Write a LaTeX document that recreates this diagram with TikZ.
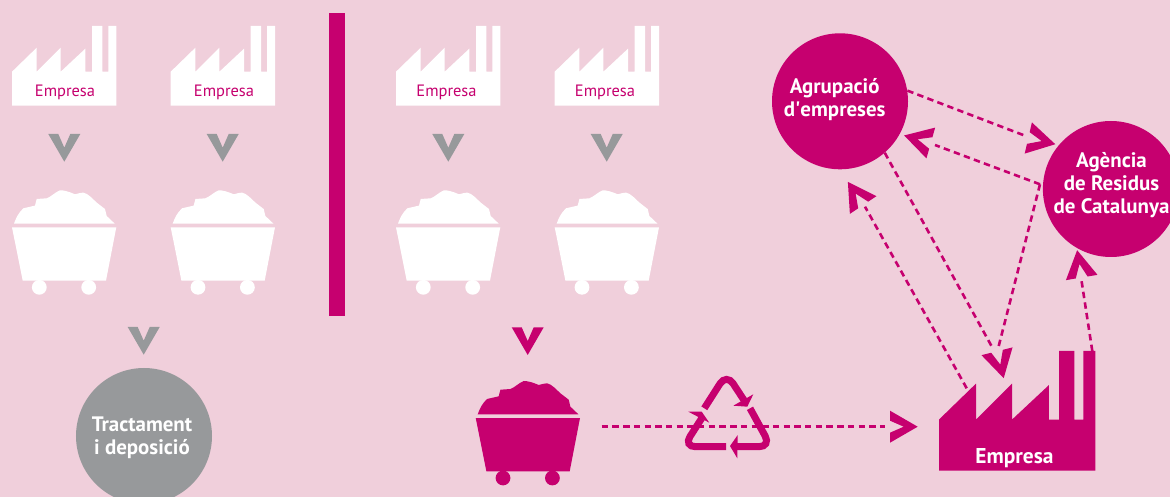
\documentclass[tikz,border=0pt]{standalone}
\usepackage{fontspec}
\usepackage{xcolor}
\usetikzlibrary{positioning}
\setmainfont{PT Sans}
\definecolor{fonscol}{HTML}{F0CFDB}
\definecolor{magcol}{HTML}{C6006F}
\definecolor{griscol}{HTML}{97999B}
\tikzset{
  dashline/.style={draw=magcol, line width=2.6bp, dash pattern=on 6.4bp off 4.3bp},
  rodona/.style={circle, fill=#1, minimum size=136bp, inner sep=0pt},
  rotol/.style={text=white, align=center, inner sep=0pt, font=\bfseries\fontsize{21}{23}\selectfont},
  etiqueta/.style={text=magcol, inner sep=0pt, font=\fontsize{16.5}{18}\selectfont},
  pics/chevron/.style={code={
    \fill[#1] (0,-16) -- (27.7,0) -- (0,16) -- (0,6) -- (13.7,0) -- (0,-6) -- cycle;
  }},
  pics/factory/.style={code={
    \fill[#1] (0,45.7) -- (24.7,21.7) -- (24.7,45.7) -- (48.7,21.7) -- (48.7,45.7) -- (73.3,22.7) -- (73.3,45.7)
      -- (80,45.7) -- (80,0) -- (90.3,0) -- (90.3,45.7) -- (96.3,45.7) -- (96.3,0) -- (104.3,0) -- (104.3,79.7) -- (0,79.7) -- cycle;
  }},
  pics/cart/.style={code={
    \fill[#1] (2,33.3) .. controls (4,28) and (6,23) .. (11.3,18) -- (23,15.3) -- (24.7,8.7) -- (34.7,8)
      .. controls (39,6.5) and (43,2) .. (48,0) .. controls (52,0) and (56,1) .. (63,4)
      .. controls (66,3.5) and (69,2) .. (71.3,2.3) .. controls (76,3) and (81,9) .. (84.7,12.3)
      -- (93,18.7) -- (94.7,25.7) -- (102.7,33.3) -- cycle;
    \fill[#1] (0,37) -- (104.3,37) -- (94,90.3) -- (10.7,90.3) -- cycle;
    \fill[#1] (27.3,97) circle (7.4) (76.7,97) circle (7.4);
  }}
}
\begin{document}
\begin{tikzpicture}[x=1bp,y=-1bp,line join=miter]
\useasboundingbox (0,0) rectangle (1170,497);
\fill[fonscol] (0,0) rectangle (1170,497);
\clip (0,0) rectangle (1170,497);
%%
\fill[magcol] (329,13) rectangle (345,316);
\foreach \x/\n in {12/a,170.7/b,396/c,554.7/d}{
  \pic at (\x,26) {factory=white};
  \pic at (\x,190.3) {cart=white};
}
\node[etiqueta] (emp_a) at (65,92) {Empresa};
\node[etiqueta] (emp_b) at (224,92) {Empresa};
\node[etiqueta] (emp_c) at (446.5,92) {Empresa};
\node[etiqueta] (emp_d) at (605,92) {Empresa};
\foreach \x in {64.3,222.7,448.3,606.7}
  \pic[rotate=-90] at (\x,134) {chevron=griscol};
\pic[rotate=-90] at (143.7,327) {chevron=griscol};
\pic[rotate=-90] at (527.7,327.3) {chevron=magcol};
%
\node[rodona=griscol] (tractament) at (144,436) {};
\node[rotol] (tractament_txt) at (142,437.5) {Tractament\\i deposició};
\node[rodona=magcol] (agrupacio) at (840,101.3) {};
\node[rotol] (agrupacio_txt) at (834.7,100) {Agrupació\\d\textquotesingle empreses};
\node[rodona=magcol] (agencia) at (1110.9,189) {};
\node[rotol] (agencia_txt) at (1111.5,185.5) {Agència\\de Residus\\de Catalunya};
%
\pic at (475.7,381) {cart=magcol};
\pic[scale=1.5] at (939,351) {factory=magcol};
\node[text=white, inner sep=0pt, font=\bfseries\fontsize{21.5}{22}\selectfont] (empresa) at (1014.5,458.5) {Empresa};
%
\coordinate (cart_out) at (601.7,426.7);
\coordinate (fab_in) at (885,426.7);
\coordinate (fab_a) at (966.7,388.3);
\coordinate (fab_b) at (1092.3,351);
\coordinate (fab_c) at (993.3,349.3);
\coordinate (fab_d) at (998.3,347.7);
\coordinate (agr_in) at (865,206.7);
\coordinate (agr_in2) at (935,145);
\coordinate (age_in) at (1025,135.7);
\coordinate (age_in2) at (1081,277.3);
\coordinate (age_out) at (1040,184.3);
\draw[dashline] (cart_out) -- (fab_in);
\draw[dashline] (agrupacio.9.6) -- (age_in);
\draw[dashline] (age_out) -- (agr_in2);
\draw[dashline] (agrupacio.-49) -- (fab_c);
\draw[dashline] (age_out) -- (fab_d);
\draw[dashline] (fab_a) -- (agr_in);
\draw[dashline] (fab_b) -- (age_in2);
%
\pic at (890,426.7) {chevron=magcol};
\pic[rotate=-13] at (1028.3,138) {chevron=magcol};
\pic[rotate=164.2] at (930.8,143) {chevron=magcol};
\pic[rotate=-76] at (997,351.3) {chevron=magcol};
\pic[rotate=123.6] at (863.2,205) {chevron=magcol};
\pic[rotate=99.5] at (1081.7,277.5) {chevron=magcol};
% reciclatge
\begin{scope}[line width=7bp, rounded corners=12bp]
\draw[magcol] (704.3,408.3) -- (726.5,373.5) -- (745,401.7);
\draw[magcol] (750,408.3) -- (771,446.7) -- (735,446.7);
\draw[magcol] (726,446.7) -- (683.5,446.7) -- (701.7,418.3);
\end{scope}
\fill[magcol] (753.3,394.3) -- (733.3,405.7) -- (747.3,406.7) -- cycle;
\fill[magcol] (737.7,435) -- (730,446) -- (737.3,458.3) -- cycle;
\fill[magcol] (688.3,411.7) -- (701.7,411.7) -- (709.3,422.7) -- cycle;
%
\end{tikzpicture}
\end{document}
